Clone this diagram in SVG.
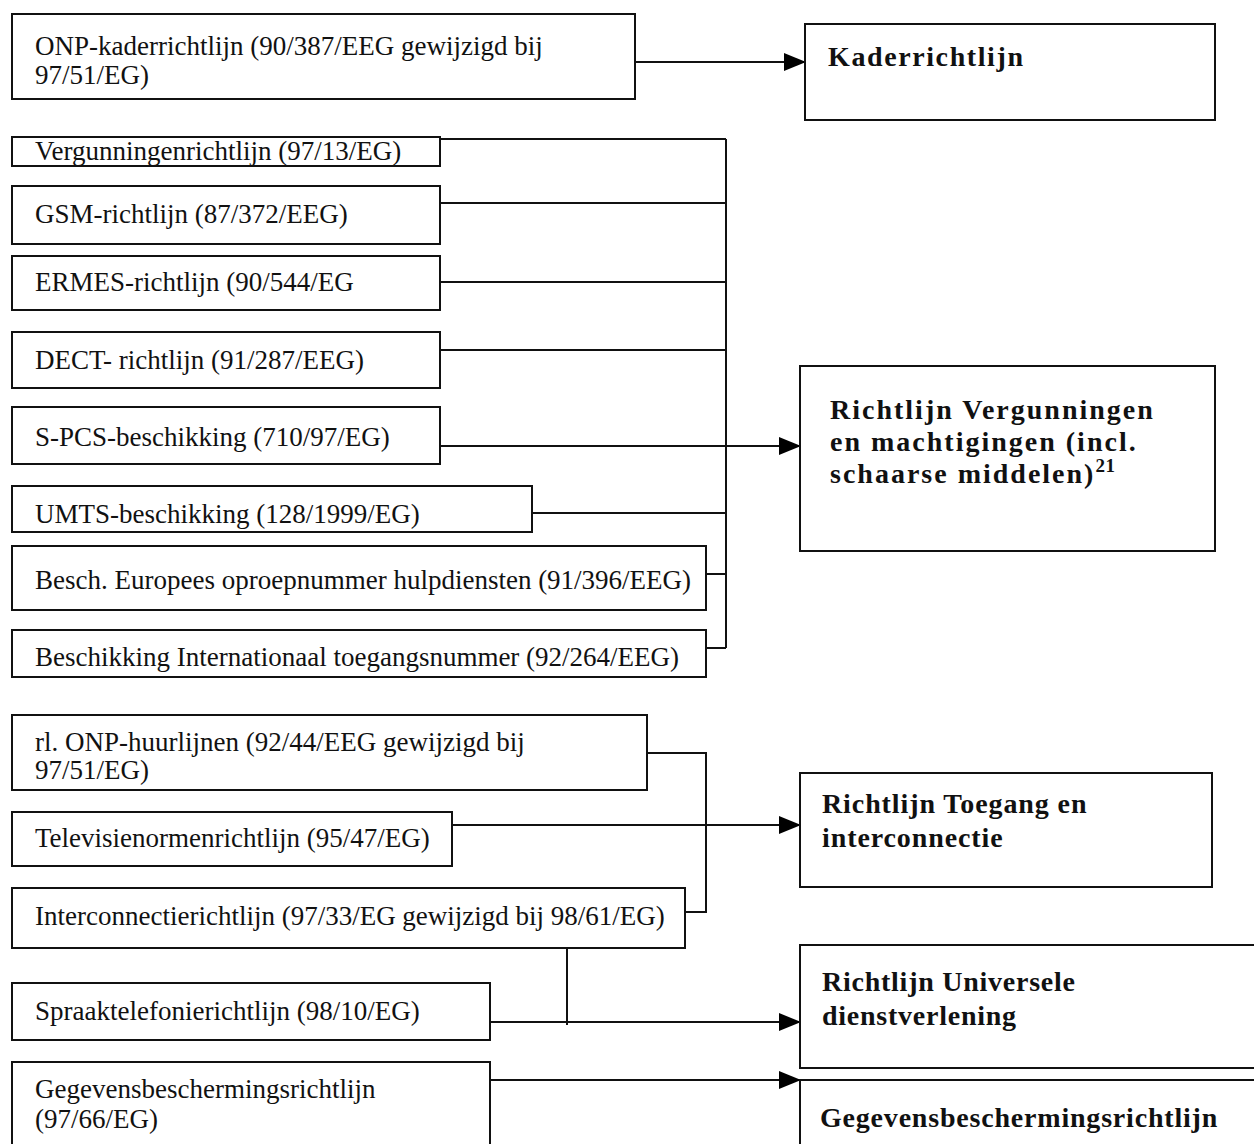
<svg xmlns="http://www.w3.org/2000/svg" width="1254" height="1144" viewBox="0 0 1254 1144">
<defs>
<marker id="arr" markerWidth="22" markerHeight="18" refX="21" refY="9" orient="auto" markerUnits="userSpaceOnUse" viewBox="0 0 22 18">
<path d="M0,0 L22,9 L0,18 Z" fill="#000"/>
</marker>
<style>
rect{fill:#fff;stroke:#111;stroke-width:2}
.t{font-family:"Liberation Serif","Times New Roman",serif;font-size:27px;fill:#111}
.b{font-family:"Liberation Serif","Times New Roman",serif;font-size:28px;font-weight:bold;fill:#111}
.c{fill:none;stroke:#111;stroke-width:2}
</style>
</defs>
<rect x="0" y="0" width="1254" height="1144" style="fill:#fff;stroke:none"/>
<g id="connectors">
<path class="c" d="M635,62 H805" marker-end="url(#arr)"/>
<path class="c" d="M726,139 V648"/>
<path class="c" d="M440,139 H726"/>
<path class="c" d="M440,203 H726"/>
<path class="c" d="M440,282 H726"/>
<path class="c" d="M440,350 H726"/>
<path class="c" d="M440,446 H800" marker-end="url(#arr)"/>
<path class="c" d="M532,513 H726"/>
<path class="c" d="M706,574 H726"/>
<path class="c" d="M706,648 H726"/>
<path class="c" d="M647,753 H706 V912 H685"/>
<path class="c" d="M452,825 H800" marker-end="url(#arr)"/>
<path class="c" d="M567,948 V1025"/>
<path class="c" d="M490,1022 H800" marker-end="url(#arr)"/>
<path class="c" d="M490,1080 H800" marker-end="url(#arr)"/>
</g>
<g id="n-onp-kader"><rect x="12" y="14" width="623" height="85"/><text class="t" x="35" y="55">ONP-kaderrichtlijn (90/387/EEG gewijzigd bij</text><text class="t" x="35" y="84">97/51/EG)</text></g>
<g id="n-kader"><rect x="805" y="24" width="410" height="96"/><text class="b" x="828" y="66" letter-spacing="1.6">Kaderrichtlijn</text></g>
<g id="n-verg"><rect x="12" y="137" width="428" height="29"/><text class="t" x="35" y="160">Vergunningenrichtlijn (97/13/EG)</text></g>
<g id="n-gsm"><rect x="12" y="186" width="428" height="58"/><text class="t" x="35" y="223">GSM-richtlijn (87/372/EEG)</text></g>
<g id="n-ermes"><rect x="12" y="256" width="428" height="54"/><text class="t" x="35" y="291">ERMES-richtlijn (90/544/EG</text></g>
<g id="n-dect"><rect x="12" y="332" width="428" height="56"/><text class="t" x="35" y="369">DECT- richtlijn (91/287/EEG)</text></g>
<g id="n-spcs"><rect x="12" y="407" width="428" height="57"/><text class="t" x="35" y="446">S-PCS-beschikking (710/97/EG)</text></g>
<g id="n-umts"><rect x="12" y="486" width="520" height="46"/><text class="t" x="35" y="523">UMTS-beschikking (128/1999/EG)</text></g>
<g id="n-besch"><rect x="12" y="546" width="694" height="64"/><text class="t" x="35" y="589">Besch. Europees oproepnummer hulpdiensten (91/396/EEG)</text></g>
<g id="n-intl"><rect x="12" y="630" width="694" height="47"/><text class="t" x="35" y="666">Beschikking Internationaal toegangsnummer (92/264/EEG)</text></g>
<g id="n-vergmacht"><rect x="800" y="366" width="415" height="185"/><text class="b" x="830" y="419" letter-spacing="2">Richtlijn Vergunningen</text><text class="b" x="830" y="451" letter-spacing="2">en machtigingen (incl.</text><text class="b" x="830" y="483" letter-spacing="2">schaarse middelen)<tspan font-size="19" dy="-11" letter-spacing="0.5">21</tspan></text></g>
<g id="n-huur"><rect x="12" y="715" width="635" height="75"/><text class="t" x="35" y="751">rl. ONP-huurlijnen (92/44/EEG gewijzigd bij</text><text class="t" x="35" y="779">97/51/EG)</text></g>
<g id="n-tv"><rect x="12" y="812" width="440" height="54"/><text class="t" x="35" y="847">Televisienormenrichtlijn (95/47/EG)</text></g>
<g id="n-toegang"><rect x="800" y="773" width="412" height="114"/><text class="b" x="822" y="813" letter-spacing="0.9">Richtlijn Toegang en</text><text class="b" x="822" y="847" letter-spacing="0.9">interconnectie</text></g>
<g id="n-interc"><rect x="12" y="888" width="673" height="60"/><text class="t" x="35" y="925">Interconnectierichtlijn (97/33/EG gewijzigd bij 98/61/EG)</text></g>
<g id="n-spraak"><rect x="12" y="983" width="478" height="57"/><text class="t" x="35" y="1020">Spraaktelefonierichtlijn (98/10/EG)</text></g>
<g id="n-univ"><rect x="800" y="945" width="470" height="123"/><text class="b" x="822" y="991" letter-spacing="0.75">Richtlijn Universele</text><text class="b" x="822" y="1025" letter-spacing="0.75">dienstverlening</text></g>
<g id="n-gegevens"><rect x="12" y="1062" width="478" height="100"/><text class="t" x="35" y="1098">Gegevensbeschermingsrichtlijn</text><text class="t" x="35" y="1128">(97/66/EG)</text></g>
<g id="n-gegevens-r"><rect x="800" y="1080" width="470" height="100"/><text class="b" x="820" y="1127" letter-spacing="0.8">Gegevensbeschermingsrichtlijn</text></g>
</svg>
